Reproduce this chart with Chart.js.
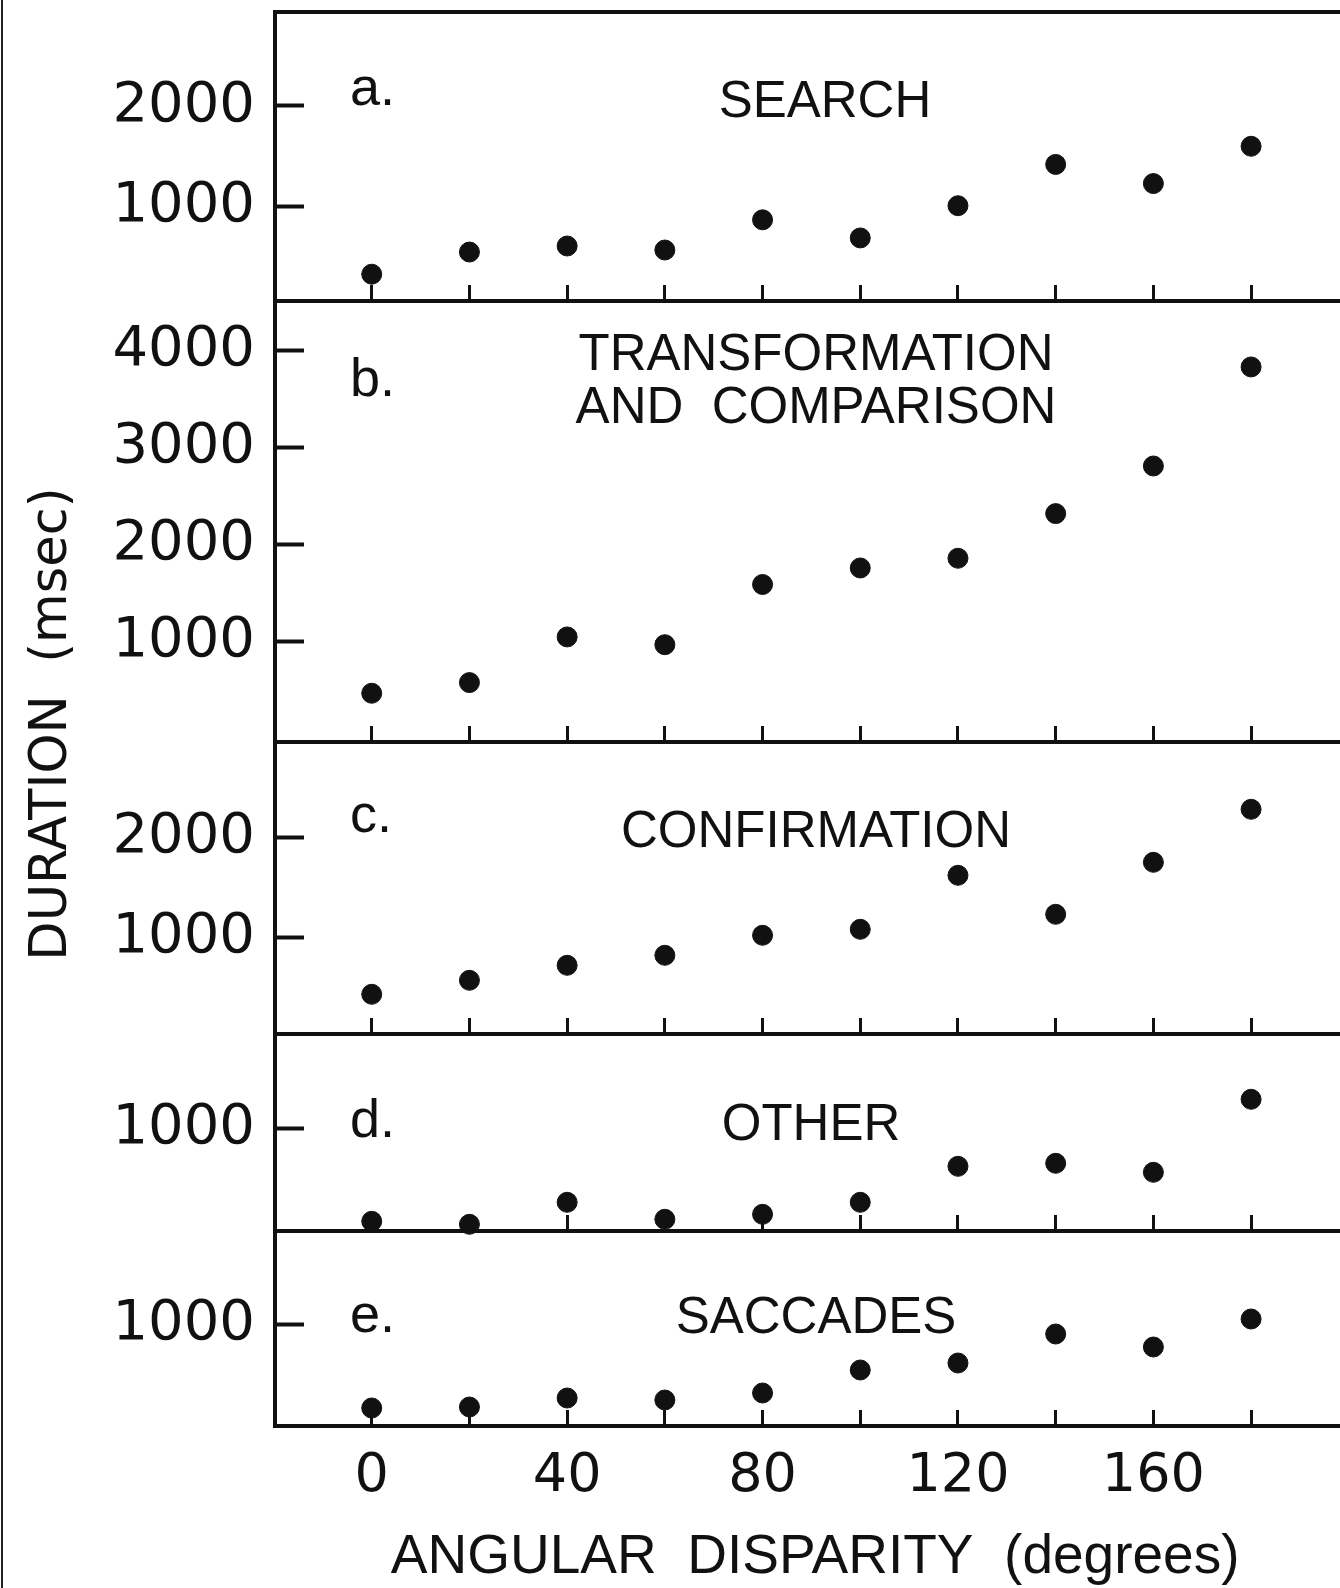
<!DOCTYPE html>
<html>
<head>
<meta charset="utf-8">
<title>Duration by angular disparity</title>
<script src="https://cdn.jsdelivr.net/npm/chart.js@4.4.1/dist/chart.umd.min.js"></script>
<style>
  html, body { margin: 0; padding: 0; background: #fff; overflow: hidden; }
  #page { position: relative; width: 1340px; height: 1588px; background: #fff; }
  #page canvas { position: absolute; left: 0; top: 0; }
  #edge { position: absolute; left: 1px; top: 0; width: 0; height: 1588px; border-left: 2px solid #222; }
</style>
</head>
<body>
<div id="page">
  <div id="edge"></div>
  <canvas id="panelA" width="1340" height="1588"></canvas>
  <canvas id="panelB" width="1340" height="1588"></canvas>
  <canvas id="panelC" width="1340" height="1588"></canvas>
  <canvas id="panelD" width="1340" height="1588"></canvas>
  <canvas id="panelE" width="1340" height="1588"></canvas>
</div>
<script>
// Angular disparity (degrees) for every point
const angles = [0, 20, 40, 60, 80, 100, 120, 140, 160, 180];

// Mean durations (msec) of each processing stage
const searchMs    = [330, 550, 610, 570, 870, 690, 1010, 1420, 1230, 1600];
const transformMs = [470, 580, 1050, 970, 1590, 1760, 1860, 2320, 2810, 3830];
const confirmMs   = [430, 570, 720, 820, 1020, 1080, 1620, 1230, 1750, 2280];
const otherMs     = [70, 40, 260, 90, 140, 260, 620, 650, 560, 1290];
const saccadeMs   = [160, 170, 260, 240, 310, 540, 610, 900, 770, 1050];

// Tick values and labels
const angleTicks      = [0, 20, 40, 60, 80, 100, 120, 140, 160, 180];
const angleTickLabels = [0, 40, 80, 120, 160];
const searchTicks     = [1000, 2000];
const transformTicks  = [1000, 2000, 3000, 4000];
const confirmTicks    = [1000, 2000];
const otherTicks      = [1000];
const saccadeTicks    = [1000];

// Panel texts
const panelLetters = ['a.', 'b.', 'c.', 'd.', 'e.'];
const panelTitles  = [['SEARCH'], ['TRANSFORMATION', 'AND  COMPARISON'], ['CONFIRMATION'], ['OTHER'], ['SACCADES']];
const xAxisTitle   = ' ANGULAR  DISPARITY  (degrees)';
const yAxisTitle   = 'DURATION  (msec)';

// ---- layout -------------------------------------------------------------
const PAGE_W = 1340, PAGE_H = 1588;
const AXIS_LEFT = 275;          // x of the shared vertical axis
const X_MIN = -19.8, X_MAX = 198.2;
const INK = '#111';

const panelLayout = [
  { id: 'panelA', series: searchMs,    ticks: searchTicks,    top: 12,   bottom: 301,  min: 64,  max: 2933, letterBase: 93,  titleBase: [105],     titleShift: 9 },
  { id: 'panelB', series: transformMs, ticks: transformTicks, top: 301,  bottom: 742,  min: -32, max: 4509, letterBase: 95,  titleBase: [69, 122], titleShift: 0 },
  { id: 'panelC', series: confirmMs,   ticks: confirmTicks,   top: 742,  bottom: 1034, min: 33,  max: 2953, letterBase: 90,  titleBase: [105],     titleShift: 0 },
  { id: 'panelD', series: otherMs,     ticks: otherTicks,     top: 1034, bottom: 1231, min: -27, max: 1943, letterBase: 103, titleBase: [106],     titleShift: -5 },
  { id: 'panelE', series: saccadeMs,   ticks: saccadeTicks,   top: 1231, bottom: 1426, min: -20, max: 1930, letterBase: 101, titleBase: [102],     titleShift: 0 }
];

// Panel letter, in-panel title and (on the last panel) the shared vertical title
const panelText = {
  id: 'panelText',
  afterDraw(chart, args, opts) {
    const { ctx, chartArea } = chart;
    ctx.save();
    ctx.fillStyle = INK;
    ctx.textBaseline = 'alphabetic';
    ctx.textAlign = 'left';
    ctx.font = '54px "Liberation Sans", Arial, sans-serif';
    ctx.fillText(opts.letter, chartArea.left + 75, chartArea.top + opts.letterBase);
    ctx.textAlign = 'center';
    ctx.font = '51px "Liberation Sans", Arial, sans-serif';
    opts.title.forEach((line, k) => {
      ctx.fillText(line, chartArea.left + 541 + opts.titleShift, chartArea.top + opts.titleBase[k]);
    });
    if (opts.sideTitle) {
      ctx.translate(53, 724);
      ctx.rotate(-Math.PI / 2);
      ctx.textAlign = 'center';
      ctx.textBaseline = 'middle';
      ctx.font = '51px "DejaVu Sans", sans-serif';
      ctx.fillText(opts.sideTitle, 0, 0);
    }
    ctx.restore();
  }
};

function buildPanel(p, idx) {
  const last = idx === panelLayout.length - 1;
  const yTickFont = { family: 'DejaVu Sans', size: 56 };
  const xTickFont = { family: 'DejaVu Sans', size: 54 };

  const scales = {
    x: {
      type: 'linear',
      position: 'bottom',
      min: X_MIN,
      max: X_MAX,
      afterBuildTicks: s => { s.ticks = angleTicks.map(v => ({ value: v })); },
      afterFit: s => {
        s.height = last ? PAGE_H - p.bottom : 0;
        s.paddingLeft = 0; s.paddingRight = 0; s.paddingTop = 0; s.paddingBottom = 0;
      },
      border: { display: true, color: INK, width: 4 },
      grid: { drawOnChartArea: false, drawTicks: true, tickLength: -16, tickWidth: 3, tickColor: INK },
      ticks: {
        display: last,
        padding: 35,
        color: INK,
        font: xTickFont,
        autoSkip: false,
        maxRotation: 0,
        minRotation: 0,
        callback: v => angleTickLabels.includes(v) ? String(v) : ''
      },
      title: {
        display: last,
        text: xAxisTitle,
        color: INK,
        font: { family: 'Liberation Sans', size: 55, lineHeight: 1 },
        padding: { top: 0, bottom: 3 }
      }
    },
    y: {
      type: 'linear',
      position: 'left',
      min: p.min,
      max: p.max,
      afterBuildTicks: s => { s.ticks = p.ticks.map(v => ({ value: v })); },
      afterFit: s => { s.width = AXIS_LEFT; s.paddingTop = 0; s.paddingBottom = 0; },
      border: { display: true, color: INK, width: 4 },
      grid: { drawOnChartArea: false, drawTicks: true, tickLength: -29, tickWidth: 4, tickColor: INK },
      ticks: { padding: 49, color: INK, font: yTickFont, callback: v => String(v) }
    }
  };

  if (idx === 0) {
    // frame line along the top of the first panel
    scales.xTop = {
      type: 'linear',
      position: 'top',
      min: X_MIN,
      max: X_MAX,
      afterFit: s => { s.height = 0; s.paddingLeft = 0; s.paddingRight = 0; },
      border: { display: true, color: INK, width: 4 },
      grid: { drawOnChartArea: false, drawTicks: false },
      ticks: { display: false }
    };
  }

  return new Chart(document.getElementById(p.id), {
    type: 'scatter',
    data: {
      datasets: [{
        data: angles.map((a, i) => ({ x: a, y: p.series[i] })),
        pointRadius: 10,
        pointHoverRadius: 10,
        backgroundColor: INK,
        borderColor: INK,
        borderWidth: 1,
        showLine: false,
        clip: false
      }]
    },
    options: {
      responsive: false,
      animation: false,
      events: [],
      layout: {
        autoPadding: false,
        padding: { top: p.top, bottom: last ? 0 : PAGE_H - p.bottom, left: 0, right: 0 }
      },
      scales,
      plugins: {
        legend: { display: false },
        tooltip: { enabled: false },
        panelText: {
          letter: panelLetters[idx],
          title: panelTitles[idx],
          letterBase: p.letterBase,
          titleBase: p.titleBase,
          titleShift: p.titleShift,
          sideTitle: last ? yAxisTitle : ''
        }
      }
    },
    plugins: [panelText]
  });
}

panelLayout.forEach(buildPanel);
</script>
</body>
</html>
